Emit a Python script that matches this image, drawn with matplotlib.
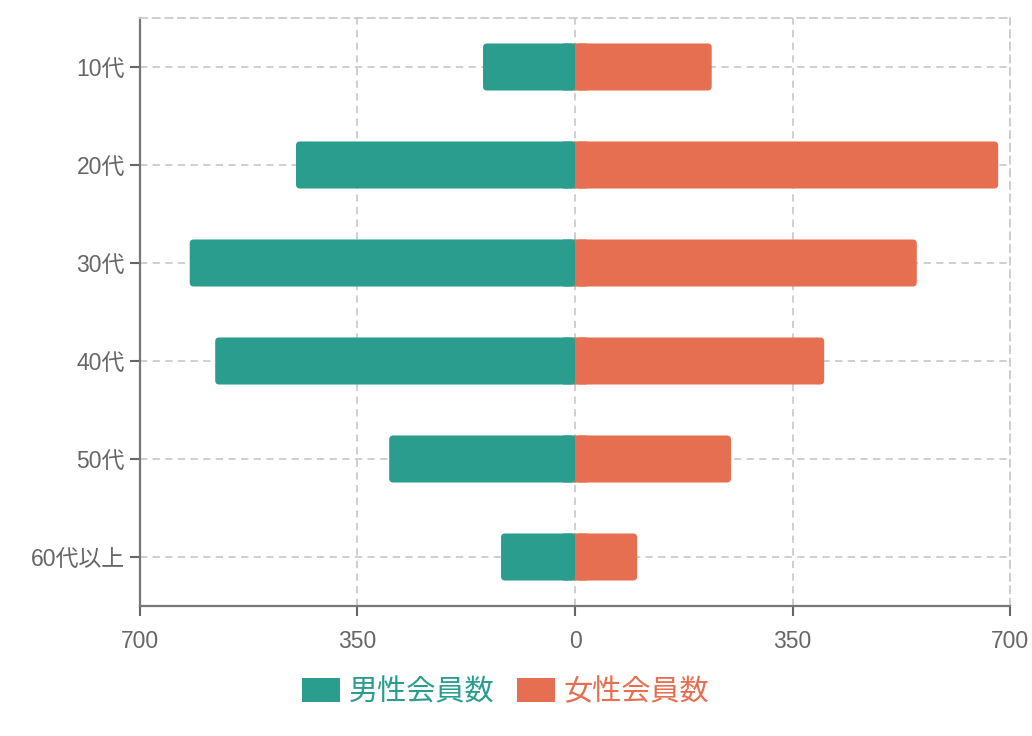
import numpy as np
import matplotlib.pyplot as plt
from matplotlib.patches import FancyBboxPatch, Patch

plt.rcParams['font.family'] = ['Liberation Sans', 'Noto Sans CJK JP', 'DejaVu Sans']

# data
age_groups = ["10代", "20代", "30代", "40代", "50代", "60代以上"]
male = [148, 449, 620, 579, 299, 119]
female = [220, 681, 550, 401, 251, 100]
x_ticks = [-700, -350, 0, 350, 700]
x_ticklabels = ["700", "350", "0", "350", "700"]

MALE_COLOR = "#2a9d8f"
FEMALE_COLOR = "#e76f51"
TEXT_COLOR = "#666666"
GRID_COLOR = "#cccccc"
BAR_H = 0.48
RADIUS_PX = 4

fig = plt.figure(figsize=(10.32, 7.36), dpi=100)
ax = fig.add_axes([140 / 1032, 1 - 606 / 736, 870 / 1032, 588 / 736])

y = np.arange(len(age_groups))
ax.set_xlim(-700, 700)
ax.set_ylim(len(age_groups) - 0.5, -0.5)

bars_m = ax.barh(y, [-v for v in male], height=BAR_H, color=MALE_COLOR, zorder=3)
bars_f = ax.barh(y, female, height=BAR_H, color=FEMALE_COLOR, zorder=3)

# rounded outer ends: rounded full patch + square piece at the inner end
px_x = 870 / 1400
px_y = 588 / len(age_groups)
r_x = RADIUS_PX / px_x
aspect = (RADIUS_PX / px_y) / r_x
for bar in list(bars_m) + list(bars_f):
    x0, y0 = bar.get_x(), bar.get_y()
    w, h = bar.get_width(), bar.get_height()
    if w < 0:
        x0, w = x0 + w, -w
    rb = FancyBboxPatch((x0, y0), w, h,
                        boxstyle=f"round,pad=0,rounding_size={r_x}",
                        mutation_aspect=aspect,
                        facecolor=bar.get_facecolor(), edgecolor="none",
                        zorder=3)
    rb.set_snap(False)
    ax.add_patch(rb)
    # square inner end, overlapping the zero line a little
    s = np.sign(bar.get_width())
    bar.set_snap(False)
    bar.set_x(-s * 1.0)
    bar.set_width(s * (3 * r_x + 1.0))

ax.set_yticks(y)
ax.set_yticklabels(age_groups)
ax.set_xticks(x_ticks)
ax.set_xticklabels(x_ticklabels)

ax.tick_params(axis="both", colors=TEXT_COLOR, labelsize=16.5, length=7,
               width=1.5, pad=4)
ax.tick_params(axis="x", pad=10)

ax.grid(True, color=GRID_COLOR, linestyle=(0, (4, 3)), linewidth=1.3, zorder=0)
ax.set_axisbelow(True)

for side in ["left", "bottom"]:
    ax.spines[side].set_color("#777777")
    ax.spines[side].set_linewidth(1.6)
for side in ["top", "right"]:
    ax.spines[side].set_color(GRID_COLOR)
    ax.spines[side].set_linestyle((0, (4, 3)))
    ax.spines[side].set_linewidth(1.3)

handles = [Patch(facecolor=MALE_COLOR, edgecolor="none"),
           Patch(facecolor=FEMALE_COLOR, edgecolor="none")]
leg = fig.legend(handles, ["男性会員数", "女性会員数"], loc="center",
                 bbox_to_anchor=(0.49, 1 - 692 / 736), ncol=2, frameon=False,
                 handlelength=1.3, handleheight=0.9,
                 handletextpad=0.3, columnspacing=0.8,
                 prop={'family': ['Noto Sans CJK JP', 'DejaVu Sans'], 'size': 21})
for txt, c in zip(leg.get_texts(), [MALE_COLOR, FEMALE_COLOR]):
    txt.set_color(c)

fig.savefig("out.png", dpi=100)
